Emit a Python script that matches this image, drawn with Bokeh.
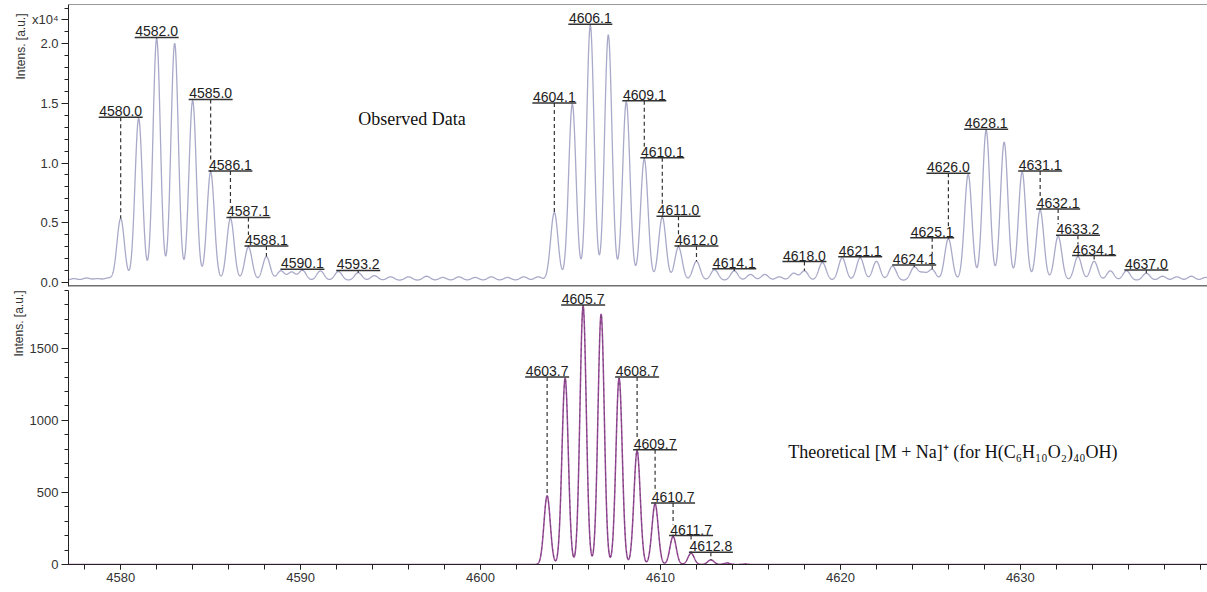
import numpy as np
from bokeh.plotting import figure
from bokeh.layouts import column
from bokeh.models import (Range1d, Span, Label, Title, SingleIntervalTicker,
                          FixedTicker, NumeralTickFormatter, ColumnDataSource)
from bokeh.core.properties import value
from bokeh.embed import file_html
from bokeh.resources import INLINE

# ---------------- data ----------------
# Observed spectrum: peak centroids (m/z) and intensities (x10^4 a.u.)
obs_mz = [4577.4, 4578.1, 4578.7, 4579.3,
          4580.0, 4581.0, 4582.0, 4583.0, 4584.0, 4585.0, 4586.1, 4587.1, 4588.1,
          4588.9, 4589.5, 4590.1, 4591.1, 4592.1, 4593.2, 4594.1, 4595.0, 4596.0,
          4597.0, 4597.9, 4598.8, 4599.7, 4600.6, 4601.5, 4602.4, 4603.2,
          4604.1, 4605.1, 4606.1, 4607.1, 4608.1, 4609.1, 4610.1, 4611.0, 4612.0,
          4613.0, 4614.1, 4615.0, 4615.8, 4616.6, 4617.4, 4618.0, 4619.0, 4620.1,
          4621.1, 4622.0, 4622.9, 4624.1, 4624.6, 4625.1,
          4626.0, 4627.1, 4628.1, 4629.1, 4630.1, 4631.1, 4632.1, 4633.2, 4634.1,
          4635.0, 4635.9, 4637.0, 4637.9, 4638.7, 4639.5, 4640.3]
obs_int = [0.015, 0.02, 0.015, 0.02,
           0.52, 1.36, 2.03, 1.99, 1.51, 0.91, 0.52, 0.28, 0.20,
           0.08, 0.07, 0.085, 0.08, 0.075, 0.065, 0.04, 0.03, 0.03,
           0.035, 0.025, 0.03, 0.025, 0.03, 0.025, 0.03, 0.03,
           0.57, 1.48, 2.14, 2.06, 1.50, 1.02, 0.53, 0.28, 0.16,
           0.09, 0.08, 0.05, 0.05, 0.03, 0.06, 0.08, 0.15, 0.19,
           0.19, 0.16, 0.12, 0.11, 0.06, 0.09,
           0.35, 0.89, 1.26, 1.16, 0.91, 0.59, 0.37, 0.20, 0.16,
           0.08, 0.08, 0.06, 0.035, 0.03, 0.035, 0.025]
obs_baseline = 0.015
obs_labels = [4580.0, 4582.0, 4585.0, 4586.1, 4587.1, 4588.1, 4590.1, 4593.2,
              4604.1, 4606.1, 4609.1, 4610.1, 4611.0, 4612.0, 4614.1, 4618.0,
              4621.1, 4624.1, 4625.1, 4626.0, 4628.1, 4631.1, 4632.1, 4633.2,
              4634.1, 4637.0]
obs_yticks = [0.0, 0.5, 1.0, 1.5, 2.0]

# Theoretical isotope pattern [M + Na]+
theo_mz = [4603.7, 4604.7, 4605.7, 4606.7, 4607.7, 4608.7, 4609.7, 4610.7,
           4611.7, 4612.8, 4613.7, 4614.7]
theo_int = [476, 1293, 1793, 1736, 1293, 789, 420, 194, 78, 32, 10, 3]
theo_labels = [4603.7, 4605.7, 4608.7, 4609.7, 4610.7, 4611.7, 4612.8]

x_start, x_end = 4577.1, 4640.4
top_y = (-0.036, 2.33)
bot_y = (0, 1900)

FONT = "Liberation Sans"
SERIF = "Liberation Serif"
TXT = "#222222"


def profile(grid, mz, inten, sigma, base):
    y = np.full_like(grid, base, dtype=float)
    for m, a in zip(mz, inten):
        y += a * np.exp(-0.5 * ((grid - m) / sigma) ** 2)
    return y


grid = np.arange(4576.0, 4642.0, 0.01)
obs_y = profile(grid, obs_mz, obs_int, 0.205, obs_baseline)
theo_y = profile(grid, theo_mz, theo_int, 0.175, 0.0)


def label_geometry(labels, y, px_per_unit_y, half_w=1.23):
    lvl, top = [], []
    for m in labels:
        mask = np.abs(grid - m) <= half_w
        lv = float(y[mask].max()) + 1.0 / px_per_unit_y
        pk = float(y[np.abs(grid - m) <= 0.12].max())
        lvl.append(lv)
        top.append(pk)
    return lvl, top


xr = Range1d(x_start, x_end)


def style_y(p):
    ax = p.yaxis[0]
    ax.axis_line_color = "#222222"
    ax.major_tick_line_color = "#222222"
    ax.minor_tick_line_color = "#222222"
    ax.major_tick_out = 7
    ax.major_tick_in = 0
    ax.minor_tick_out = 4
    ax.minor_tick_in = 0
    ax.major_label_standoff = 3
    ax.major_label_text_font = FONT
    ax.major_label_text_font_size = "13px"
    ax.major_label_text_color = "#333333"


def add_ylabel(p, offset):
    p.add_layout(Title(text="Intens. [a.u.]", align="right", offset=offset,
                       text_font=FONT, text_font_size="12px",
                       text_font_style="normal", text_color="#333333",
                       standoff=2), "left")


def add_labels(p, labels, y, px_per_unit):
    lvl, top = label_geometry(labels, y, px_per_unit)
    src = ColumnDataSource(dict(x=labels, lvl=lvl, top=top,
                                txt=[f"{m:.1f}" for m in labels]))
    p.segment(x0="x", x1="x", y0="lvl", y1="top", source=src,
              line_color="#333333", line_width=1.2, line_dash="4 3")
    p.text(x="x", y="lvl", text="txt", source=src, text_align="center",
           text_baseline="bottom", y_offset=-1, text_font=value(FONT),
           text_font_size="14px", text_color=TXT,
           background_fill_color="white")
    p.scatter(x="x", y="lvl", source=src, marker="dash", size=44,
              line_color="#333333", line_width=1.5)


# ---------------- top: observed ----------------
H1 = 290
p1 = figure(width=1207, height=H1, x_range=xr, y_range=Range1d(*top_y),
            output_backend="svg", toolbar_location=None, x_axis_location=None,
            min_border_left=68, min_border_right=0, min_border_top=4,
            min_border_bottom=4)
p1.outline_line_color = None
p1.grid.visible = False
style_y(p1)
exp_pos = 2.2
ay = p1.yaxis[0]
ay.ticker = FixedTicker(ticks=obs_yticks + [exp_pos],
                        minor_ticks=[round(0.1 * i, 1) for i in range(24)])
ay.formatter = NumeralTickFormatter(format="0.0")
ay.major_label_overrides = {exp_pos: "x10\u2074"}
add_ylabel(p1, 9)

p1.line(grid, obs_y, line_color="#a9a9c9", line_width=1.3)
px_top = 282 / (top_y[1] - top_y[0])
add_labels(p1, obs_labels, obs_y, px_top)

p1.add_layout(Span(location=top_y[1], dimension="width", line_color="#333333",
                   line_width=1))
p1.add_layout(Span(location=top_y[0], dimension="width", line_color="#707070",
                   line_width=3))
p1.add_layout(Label(x=4593.2, y=1.373, text="Observed Data",
                    text_font=SERIF, text_font_size="18px",
                    text_color="#111111", text_baseline="alphabetic"))

# ---------------- bottom: theoretical ----------------
H2 = 592 - H1
p2 = figure(width=1207, height=H2, x_range=xr, y_range=Range1d(*bot_y),
            output_backend="svg", toolbar_location=None,
            min_border_left=68, min_border_right=0, min_border_top=0,
            min_border_bottom=28)
p2.outline_line_color = None
p2.grid.visible = False
style_y(p2)
p2.yaxis[0].ticker = SingleIntervalTicker(interval=500, num_minor_ticks=5)
add_ylabel(p2, 0)
xa = p2.xaxis[0]
xa.ticker = SingleIntervalTicker(interval=10, num_minor_ticks=5)
xa.axis_line_color = "#222222"
xa.major_tick_line_color = "#222222"
xa.minor_tick_line_color = "#222222"
xa.major_tick_out = 5
xa.major_tick_in = 0
xa.minor_tick_out = 5
xa.minor_tick_in = 0
xa.major_label_standoff = 3
xa.major_label_text_font = FONT
xa.major_label_text_font_size = "13px"
xa.major_label_text_color = "#333333"
xa.major_label_overrides = {4640: ""}

p2.line(grid, theo_y, line_color="#9a4a9a", line_width=1.5)
p2.line(grid, theo_y, line_color="#404040", line_width=1, line_dash="2 4",
        line_alpha=0.55)
px_bot = 274 / (bot_y[1] - bot_y[0])
add_labels(p2, theo_labels, theo_y, px_bot)

p2.add_layout(Label(x=4617.1, y=778,
                    text="Theoretical [M + Na]\u207a (for H(C\u2086H\u2081\u2080O\u2082)\u2084\u2080OH)",
                    text_font=SERIF, text_font_size="18px",
                    text_color="#111111", text_baseline="alphabetic"))

layout = column(p1, p2, spacing=0)
open("out.html", "w").write(file_html(layout, INLINE))
